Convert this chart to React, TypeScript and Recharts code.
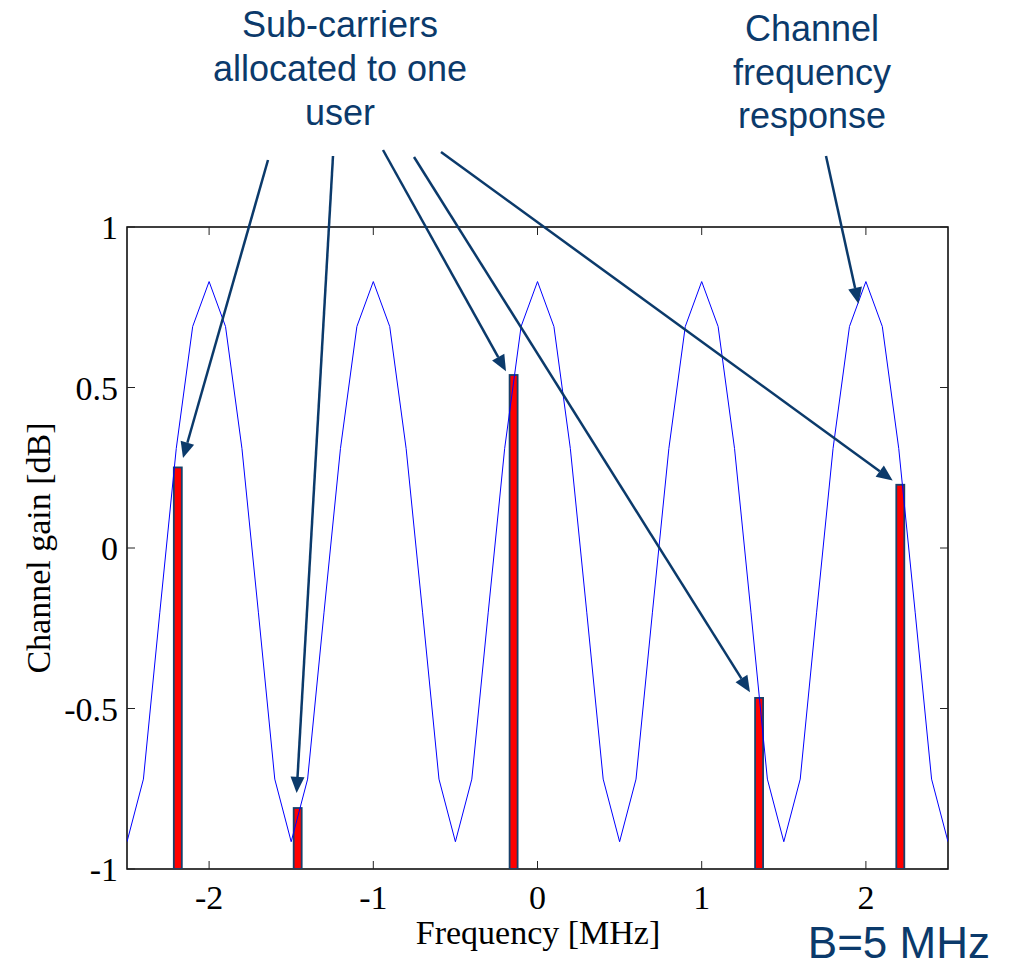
import React from "react";
import { ComposedChart, Line, Bar, XAxis, YAxis, ReferenceArea } from "recharts";

// channel frequency response, sampled every 0.1 MHz
const freqs = [
  -2.5, -2.4, -2.3, -2.2, -2.1, -2.0, -1.9, -1.8, -1.7, -1.6, -1.5,
  -1.4, -1.3, -1.2, -1.1, -1.0, -0.9, -0.8, -0.7, -0.6, -0.5,
  -0.4, -0.3, -0.2, -0.1, 0.0, 0.1, 0.2, 0.3, 0.4, 0.5,
  0.6, 0.7, 0.8, 0.9, 1.0, 1.1, 1.2, 1.3, 1.4, 1.5,
  1.6, 1.7, 1.8, 1.9, 2.0, 2.1, 2.2, 2.3, 2.4, 2.5,
];
const gains = [
  -0.915, -0.72, -0.2, 0.31, 0.69, 0.83, 0.69, 0.31, -0.2, -0.72, -0.915,
  -0.72, -0.2, 0.31, 0.69, 0.83, 0.69, 0.31, -0.2, -0.72, -0.915,
  -0.72, -0.2, 0.31, 0.69, 0.83, 0.69, 0.31, -0.2, -0.72, -0.915,
  -0.72, -0.2, 0.31, 0.69, 0.83, 0.69, 0.31, -0.2, -0.72, -0.915,
  -0.72, -0.2, 0.31, 0.69, 0.83, 0.69, 0.31, -0.2, -0.72, -0.915,
];

// sub-carriers allocated to the user
const allocFreqs = [-2.19, -1.46, -0.145, 1.35, 2.21];
const allocGains = [0.251, -0.81, 0.539, -0.467, 0.197];

const xTicks = [-2, -1, 0, 1, 2];
const yTicks = [-1, -0.5, 0, 0.5, 1];

const responseData = freqs.map((f, i) => ({ f, gain: gains[i] }));
const allocData = allocFreqs.map((f, i) => ({ f, alloc: [-1, allocGains[i]] }));

const W = 1009;
const H = 966;
const PLOT = { left: 127, top: 227, right: 948, bottom: 869 };

const NAVY = "#0b3a6b";
const SERIF = "'Liberation Serif', 'Times New Roman', serif";
const SANS = "'Liberation Sans', Arial, sans-serif";

// data -> page pixel, same frame as the chart's plot area
const px = (f: number) => PLOT.left + ((f + 2.5) / 5) * (PLOT.right - PLOT.left);
const py = (g: number) => PLOT.top + ((1 - g) / 2) * (PLOT.bottom - PLOT.top);

const arrows = [
  { from: [268, 160], to: [-2.159, 0.28] },
  { from: [333, 156], to: [-1.467, -0.763] },
  { from: [383, 150], to: [-0.192, 0.551] },
  { from: [414, 157], to: [1.294, -0.449] },
  { from: [441, 152], to: [2.163, 0.21] },
  { from: [826, 156], to: [1.955, 0.761] },
];

function XTick({ x, y, payload }: any) {
  return (
    <g>
      <line x1={x} x2={x} y1={PLOT.bottom} y2={PLOT.bottom - 8} stroke="#222" />
      <line x1={x} x2={x} y1={PLOT.top} y2={PLOT.top + 8} stroke="#222" />
      <text x={x} y={y + 40} textAnchor="middle" fontFamily={SERIF} fontSize={34} fill="#000">
        {String(payload.value)}
      </text>
    </g>
  );
}

function YTick({ x, y, payload }: any) {
  return (
    <g>
      <line x1={PLOT.left} x2={PLOT.left + 8} y1={y} y2={y} stroke="#222" />
      <line x1={PLOT.right} x2={PLOT.right - 8} y1={y} y2={y} stroke="#222" />
      <text x={x - 9} y={y + 12} textAnchor="end" fontFamily={SERIF} fontSize={34} fill="#000">
        {String(payload.value)}
      </text>
    </g>
  );
}

// fixed-width bar centred on the position recharts gives
function AllocBar({ x, y, width, height }: any) {
  const w = 8;
  const cx = x + width / 2;
  return (
    <rect
      x={cx - w / 2}
      y={y}
      width={w}
      height={height}
      fill="#ff0000"
      stroke="#17406b"
      strokeWidth={1.8}
    />
  );
}

function Arrow({ x1, y1, x2, y2 }: { x1: number; y1: number; x2: number; y2: number }) {
  const dx = x2 - x1;
  const dy = y2 - y1;
  const len = Math.hypot(dx, dy);
  const ux = dx / len;
  const uy = dy / len;
  const head = 16;
  const half = 7;
  const bx = x2 - ux * head;
  const by = y2 - uy * head;
  const pts = `${x2},${y2} ${bx - uy * half},${by + ux * half} ${bx + uy * half},${by - ux * half}`;
  return (
    <g>
      <line x1={x1} y1={y1} x2={bx} y2={by} stroke={NAVY} strokeWidth={2.5} />
      <polygon points={pts} fill={NAVY} />
    </g>
  );
}

export default function App() {
  return (
    <div style={{ position: "absolute", left: 0, top: 0, width: W, height: H, background: "#fff" }}>
      <ComposedChart
        width={W}
        height={H}
        data={allocData}
        margin={{ top: PLOT.top, right: W - PLOT.right, bottom: 0, left: 0 }}
      >
        <XAxis
          type="number"
          dataKey="f"
          domain={[-2.5, 2.5]}
          ticks={xTicks}
          interval={0}
          allowDataOverflow
          axisLine={false}
          tickLine={false}
          tickSize={0}
          tickMargin={0}
          height={H - PLOT.bottom}
          tick={<XTick />}
        />
        <YAxis
          type="number"
          domain={[-1, 1]}
          ticks={yTicks}
          interval={0}
          allowDataOverflow
          axisLine={false}
          tickLine={false}
          tickSize={0}
          tickMargin={0}
          width={PLOT.left}
          tick={<YTick />}
        />
        <ReferenceArea
          x1={-2.5}
          x2={2.5}
          y1={-1}
          y2={1}
          fill="none"
          stroke="#000"
          strokeWidth={1.5}
          ifOverflow="visible"
        />
        <Line
          data={responseData}
          dataKey="gain"
          type="linear"
          stroke="#0000ff"
          strokeWidth={1}
          dot={false}
          isAnimationActive={false}
        />
        <Bar dataKey="alloc" barSize={8} shape={<AllocBar />} isAnimationActive={false} />
      </ComposedChart>

      <svg
        width={W}
        height={H}
        style={{ position: "absolute", left: 0, top: 0, pointerEvents: "none" }}
      >
        <text x={340} textAnchor="middle" fontFamily={SANS} fontSize={36} fill={NAVY}>
          <tspan x={340} y={37}>Sub-carriers</tspan>
          <tspan x={340} y={81}>allocated to one</tspan>
          <tspan x={340} y={125}>user</tspan>
        </text>
        <text x={812} textAnchor="middle" fontFamily={SANS} fontSize={36} fill={NAVY}>
          <tspan x={812} y={41}>Channel</tspan>
          <tspan x={812} y={85}>frequency</tspan>
          <tspan x={812} y={128}>response</tspan>
        </text>
        {arrows.map((a, i) => (
          <Arrow key={i} x1={a.from[0]} y1={a.from[1]} x2={px(a.to[0])} y2={py(a.to[1])} />
        ))}
        <text x={538} y={944} textAnchor="middle" fontFamily={SERIF} fontSize={34} fill="#000">
          Frequency [MHz]
        </text>
        <text
          x={50}
          y={548}
          textAnchor="middle"
          fontFamily={SERIF}
          fontSize={34}
          fill="#000"
          transform="rotate(-90 50 548)"
        >
          Channel gain [dB]
        </text>
        <text x={990} y={958} textAnchor="end" fontFamily={SANS} fontSize={44} fill={NAVY}>
          B=5 MHz
        </text>
      </svg>
    </div>
  );
}
